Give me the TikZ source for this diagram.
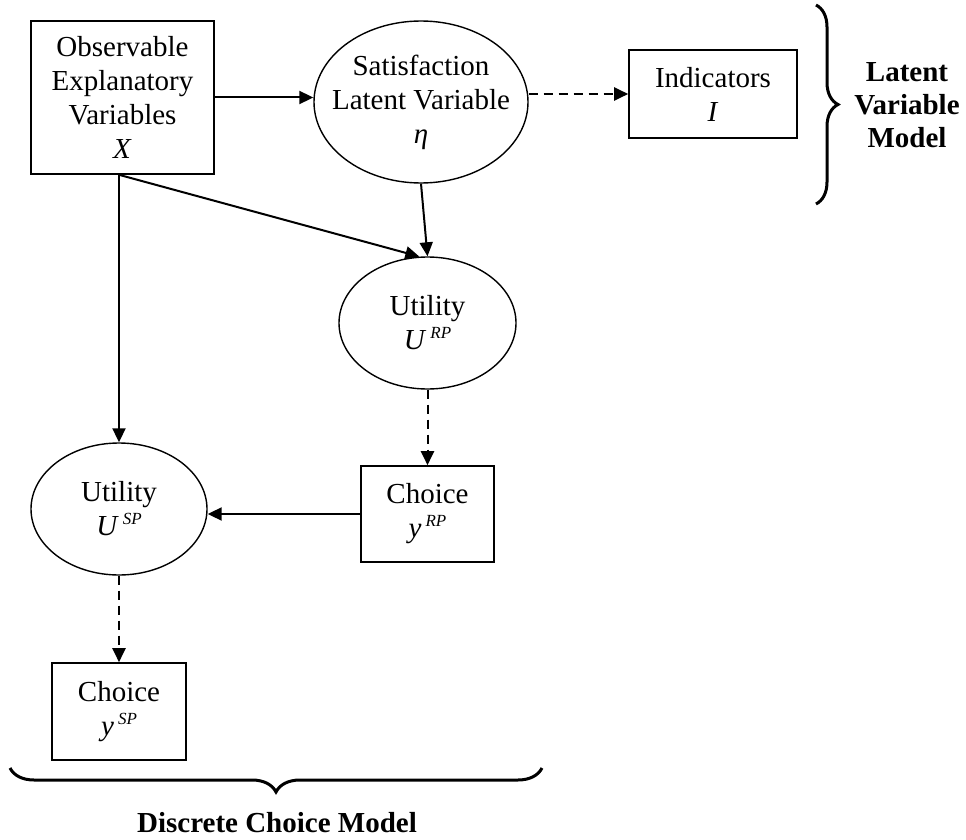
\documentclass[tikz,border=0pt]{standalone}
\usepackage{fontspec}
\setmainfont{Liberation Serif}
\usetikzlibrary{arrows.meta,shapes.geometric,decorations.pathreplacing}

\newcommand{\supidx}[1]{\hspace{4pt}\raisebox{11pt}{\fontsize{17}{17}\selectfont\textit{#1}}}

\begin{document}
\begin{tikzpicture}[x=1pt,y=-1pt,
    font=\fontsize{29}{34}\selectfont,
    box/.style={draw,line width=1.6pt,align=center,inner sep=0pt},
    oval/.style={draw,ellipse,line width=1.4pt,align=center,inner sep=0pt},
    arr/.style={line width=2pt,-{Triangle[length=14pt,width=13pt]}},
    dasharr/.style={arr,dash pattern=on 9pt off 6pt},
    curly/.style={decorate,decoration={brace,amplitude=#1},line width=3pt}]
  \useasboundingbox (0,0) rectangle (966,840);

  \node[box,minimum width=183pt,minimum height=153pt] (obs) at (122.5,97.5)
    {Observable\\Explanatory\\Variables\\\textit{X}};
  \node[oval,minimum width=214pt,minimum height=162pt] (sat) at (421,102) {};
  \node[align=center] (sattext) at (sat.center) {Satisfaction\\Latent Variable\\\textit{η}};
  \node[box,minimum width=168pt,minimum height=88pt] (ind) at (713,94) {Indicators\\\textit{I}};
  \node[oval,minimum width=177pt,minimum height=132pt] (urp) at (427.5,323) {Utility\\\textit{U}\supidx{RP}};
  \node[box,minimum width=133pt,minimum height=96pt] (crp) at (427.5,514) {Choice\\\textit{y}\supidx{RP}};
  \node[oval,minimum width=176pt,minimum height=132pt] (usp) at (119,509) {Utility\\\textit{U}\supidx{SP}};
  \node[box,minimum width=134pt,minimum height=97pt] (csp) at (119,711.5) {Choice\\\textit{y}\supidx{SP}};

  % group labels
  \node[font=\fontsize{29}{33}\selectfont\bfseries,align=center] (lvm) at (907,105) {Latent\\Variable\\Model};
  \node[font=\fontsize{29}{34}\selectfont\bfseries,anchor=base] (dcm) at (277,832) {Discrete Choice Model};

  \coordinate (fork) at (obs.south -| usp.north);
  \draw[arr] (obs.east) -- (obs.east -| sat.west);
  \draw[dasharr] (ind.west -| sat.east) -- (ind.west);
  \draw[arr] (fork) -- (usp.north);
  \draw[arr] (fork) -- (urp.97);
  \draw[arr] (sat.south) -- (urp.north);
  \draw[dasharr] (urp.south) -- (crp.north);
  \draw[arr] (crp.west) -- (crp.west -| usp.east);
  \draw[dasharr] (usp.south) -- (csp.north);

  % braces
  \coordinate (lvmtop) at (816,5);
  \coordinate (lvmbot) at (816,204);
  \draw[curly=22pt] (lvmtop) -- (lvmbot);
  \coordinate (dcmright) at (542,768);
  \coordinate (dcmleft) at (10,768);
  \draw[curly=24pt] (dcmright) -- (dcmleft);
\end{tikzpicture}
\end{document}
